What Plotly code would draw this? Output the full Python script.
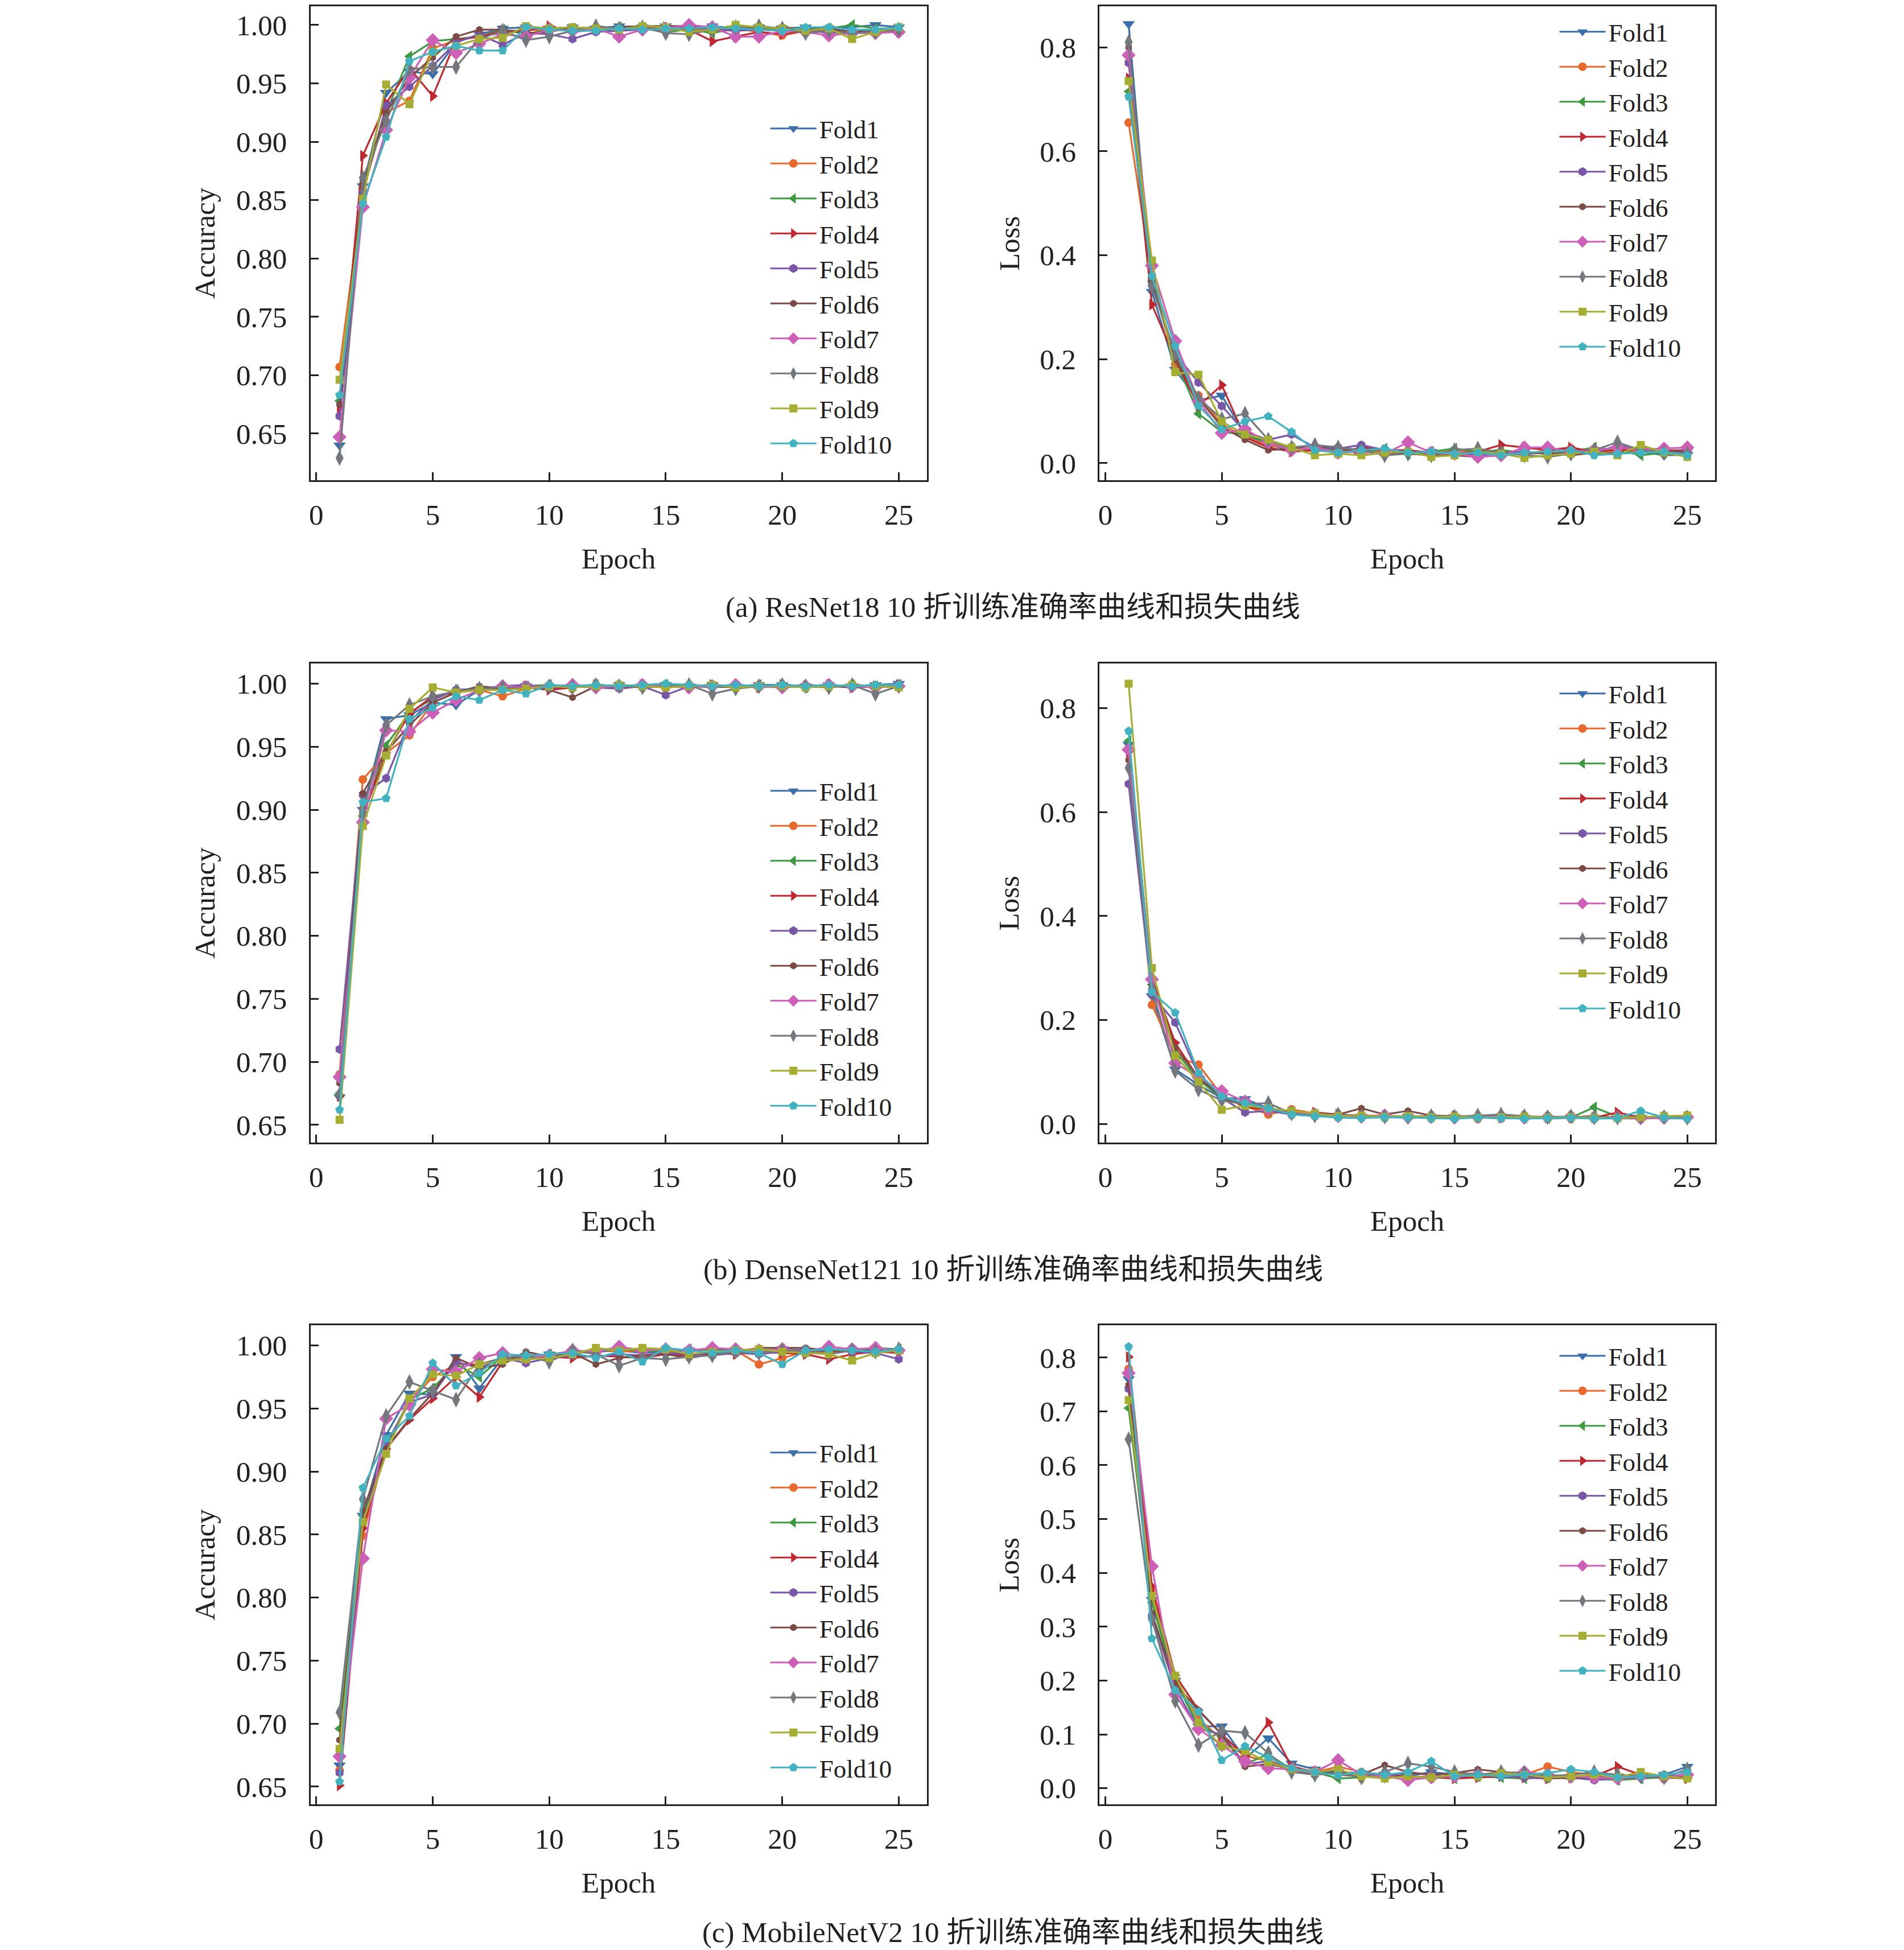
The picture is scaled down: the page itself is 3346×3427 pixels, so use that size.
# 三种模型10折训练准确率/损失曲线 (Plotly)
import plotly.graph_objects as go
from plotly.subplots import make_subplots

epochs = list(range(1, 26))
fold_names = ['Fold%d' % i for i in range(1, 11)]

# ---------------- (a) ResNet18 ----------------
acc_a = [
    [0.640, 0.862, 0.942, 0.960, 0.958, 0.985, 0.992, 0.997, 0.998, 0.997, 0.998, 0.997, 0.999, 0.998, 0.999, 0.998, 0.999, 0.997, 0.998, 0.997, 0.998, 0.997, 0.998, 1.000, 0.998],
    [0.707, 0.858, 0.925, 0.935, 0.980, 0.987, 0.990, 0.993, 0.996, 0.995, 0.998, 0.996, 0.997, 0.998, 0.996, 0.997, 0.995, 0.997, 0.994, 0.991, 0.995, 0.996, 0.994, 0.995, 0.994],
    [0.678, 0.860, 0.925, 0.973, 0.986, 0.988, 0.990, 0.996, 0.992, 0.996, 0.997, 0.996, 0.998, 0.997, 0.994, 0.996, 0.993, 0.997, 0.997, 0.996, 0.995, 0.997, 1.000, 0.997, 0.997],
    [0.672, 0.888, 0.933, 0.963, 0.939, 0.987, 0.990, 0.995, 0.995, 0.999, 0.994, 0.996, 0.995, 0.997, 0.998, 0.996, 0.986, 0.990, 0.994, 0.992, 0.995, 0.994, 0.993, 0.995, 0.994],
    [0.665, 0.856, 0.931, 0.947, 0.965, 0.985, 0.992, 0.983, 0.993, 0.992, 0.988, 0.994, 0.995, 0.996, 0.997, 0.998, 0.996, 0.995, 0.996, 0.995, 0.996, 0.993, 0.994, 0.995, 0.996],
    [0.675, 0.866, 0.925, 0.955, 0.972, 0.990, 0.996, 0.996, 0.993, 0.994, 0.998, 0.997, 0.998, 0.999, 0.999, 0.999, 0.998, 0.997, 0.997, 0.998, 0.996, 0.997, 0.994, 0.996, 0.995],
    [0.647, 0.844, 0.910, 0.955, 0.987, 0.976, 0.984, 0.992, 0.990, 0.996, 0.995, 0.997, 0.990, 0.996, 0.997, 1.000, 0.998, 0.990, 0.990, 0.995, 0.994, 0.991, 0.993, 0.993, 0.994],
    [0.629, 0.869, 0.918, 0.962, 0.964, 0.964, 0.988, 0.995, 0.987, 0.990, 0.995, 0.999, 0.997, 0.998, 0.993, 0.992, 0.996, 0.998, 0.999, 0.997, 0.993, 0.995, 0.993, 0.994, 0.996],
    [0.696, 0.851, 0.949, 0.932, 0.977, 0.982, 0.988, 0.989, 0.999, 0.997, 0.998, 0.997, 0.996, 0.999, 0.998, 0.994, 0.996, 1.000, 0.998, 0.997, 0.995, 0.997, 0.988, 0.994, 0.998],
    [0.683, 0.847, 0.904, 0.969, 0.977, 0.982, 0.978, 0.978, 0.998, 0.996, 0.995, 0.995, 0.997, 0.996, 0.997, 0.997, 0.998, 0.997, 0.996, 0.995, 0.998, 0.998, 0.996, 0.996, 0.998],
]
loss_a = [
    [0.845, 0.330, 0.180, 0.120, 0.130, 0.055, 0.035, 0.025, 0.025, 0.022, 0.028, 0.020, 0.018, 0.022, 0.020, 0.018, 0.020, 0.022, 0.018, 0.020, 0.017, 0.020, 0.022, 0.015, 0.016],
    [0.655, 0.355, 0.190, 0.130, 0.075, 0.050, 0.035, 0.028, 0.022, 0.030, 0.020, 0.025, 0.022, 0.018, 0.025, 0.020, 0.022, 0.018, 0.024, 0.028, 0.022, 0.020, 0.024, 0.020, 0.022],
    [0.715, 0.350, 0.200, 0.095, 0.060, 0.055, 0.040, 0.030, 0.028, 0.025, 0.020, 0.028, 0.018, 0.022, 0.028, 0.022, 0.025, 0.020, 0.018, 0.022, 0.030, 0.025, 0.015, 0.020, 0.022],
    [0.740, 0.305, 0.200, 0.110, 0.150, 0.050, 0.030, 0.022, 0.025, 0.020, 0.030, 0.025, 0.025, 0.020, 0.018, 0.022, 0.035, 0.030, 0.025, 0.030, 0.022, 0.025, 0.028, 0.024, 0.025],
    [0.770, 0.345, 0.210, 0.155, 0.110, 0.060, 0.045, 0.055, 0.030, 0.028, 0.035, 0.025, 0.022, 0.020, 0.018, 0.015, 0.020, 0.022, 0.018, 0.020, 0.018, 0.035, 0.025, 0.022, 0.020],
    [0.800, 0.350, 0.200, 0.125, 0.070, 0.045, 0.025, 0.028, 0.030, 0.032, 0.015, 0.020, 0.018, 0.015, 0.015, 0.012, 0.015, 0.018, 0.020, 0.015, 0.020, 0.018, 0.030, 0.022, 0.025],
    [0.785, 0.380, 0.235, 0.120, 0.058, 0.065, 0.040, 0.025, 0.030, 0.020, 0.022, 0.018, 0.040, 0.020, 0.018, 0.012, 0.015, 0.030, 0.030, 0.022, 0.025, 0.030, 0.026, 0.028, 0.030],
    [0.810, 0.340, 0.210, 0.125, 0.085, 0.095, 0.045, 0.030, 0.035, 0.030, 0.025, 0.015, 0.018, 0.015, 0.025, 0.028, 0.020, 0.015, 0.012, 0.018, 0.025, 0.040, 0.025, 0.020, 0.018],
    [0.735, 0.390, 0.175, 0.170, 0.080, 0.055, 0.045, 0.030, 0.015, 0.018, 0.015, 0.020, 0.022, 0.012, 0.015, 0.022, 0.018, 0.010, 0.015, 0.018, 0.022, 0.015, 0.035, 0.020, 0.012],
    [0.705, 0.360, 0.225, 0.110, 0.065, 0.080, 0.090, 0.060, 0.025, 0.020, 0.025, 0.028, 0.020, 0.022, 0.018, 0.020, 0.015, 0.020, 0.022, 0.025, 0.015, 0.018, 0.020, 0.022, 0.015],
]

# ---------------- (b) DenseNet121 ----------------
acc_b = [
    [0.672, 0.900, 0.972, 0.975, 0.985, 0.983, 0.995, 0.997, 0.998, 0.996, 0.998, 0.997, 0.999, 0.998, 0.999, 0.998, 0.999, 0.998, 0.999, 0.999, 0.998, 0.999, 0.998, 0.999, 1.000],
    [0.690, 0.924, 0.945, 0.959, 0.985, 0.993, 0.995, 0.990, 0.996, 0.997, 0.998, 0.999, 0.998, 0.997, 0.998, 0.999, 0.998, 0.997, 0.998, 0.999, 0.998, 0.997, 0.999, 0.998, 0.998],
    [0.675, 0.895, 0.951, 0.977, 0.988, 0.995, 0.996, 0.997, 0.998, 0.999, 0.998, 0.999, 0.997, 0.998, 0.999, 0.998, 0.997, 0.998, 0.999, 0.998, 0.997, 0.998, 0.999, 0.998, 0.999],
    [0.673, 0.895, 0.945, 0.976, 0.990, 0.993, 0.996, 0.997, 0.998, 0.995, 0.997, 0.999, 0.998, 0.999, 0.998, 0.997, 0.999, 0.998, 0.997, 0.999, 0.998, 0.999, 0.997, 0.998, 0.999],
    [0.710, 0.912, 0.925, 0.970, 0.987, 0.995, 0.996, 0.998, 0.999, 0.997, 0.998, 0.997, 0.996, 0.998, 0.991, 0.998, 0.999, 0.998, 0.997, 0.999, 0.998, 0.998, 0.999, 0.998, 0.999],
    [0.683, 0.913, 0.946, 0.967, 0.985, 0.993, 0.998, 0.996, 0.997, 0.995, 0.989, 0.998, 0.997, 0.998, 0.997, 0.999, 0.998, 0.997, 0.998, 0.997, 0.999, 0.998, 0.997, 0.998, 0.998],
    [0.688, 0.890, 0.963, 0.962, 0.977, 0.987, 0.995, 0.998, 0.997, 0.998, 0.999, 0.997, 0.998, 0.999, 0.998, 0.997, 0.998, 0.999, 0.998, 0.997, 0.998, 0.999, 0.998, 0.997, 0.998],
    [0.674, 0.898, 0.967, 0.983, 0.990, 0.994, 0.996, 0.997, 0.996, 0.998, 0.997, 0.999, 0.998, 0.997, 0.998, 0.999, 0.992, 0.996, 0.998, 0.999, 0.998, 0.997, 0.999, 0.992, 0.998],
    [0.654, 0.887, 0.943, 0.980, 0.997, 0.993, 0.995, 0.995, 0.996, 0.998, 0.997, 0.998, 0.999, 0.998, 0.997, 0.998, 0.999, 0.997, 0.998, 0.998, 0.997, 0.998, 0.999, 0.998, 0.997],
    [0.662, 0.906, 0.909, 0.972, 0.981, 0.990, 0.987, 0.995, 0.992, 0.999, 0.998, 0.999, 0.998, 0.999, 1.000, 0.999, 0.998, 0.999, 0.998, 0.999, 0.998, 0.999, 0.998, 0.999, 0.999],
]
loss_b = [
    [0.730, 0.246, 0.105, 0.075, 0.050, 0.048, 0.030, 0.020, 0.018, 0.015, 0.014, 0.012, 0.014, 0.012, 0.013, 0.012, 0.011, 0.012, 0.010, 0.012, 0.011, 0.010, 0.012, 0.011, 0.010],
    [0.720, 0.229, 0.130, 0.114, 0.055, 0.035, 0.018, 0.028, 0.020, 0.018, 0.015, 0.016, 0.014, 0.015, 0.012, 0.014, 0.013, 0.012, 0.014, 0.012, 0.013, 0.012, 0.011, 0.013, 0.012],
    [0.737, 0.268, 0.140, 0.085, 0.050, 0.035, 0.025, 0.020, 0.018, 0.016, 0.015, 0.014, 0.015, 0.013, 0.014, 0.012, 0.013, 0.012, 0.011, 0.012, 0.032, 0.014, 0.012, 0.013, 0.012],
    [0.716, 0.280, 0.156, 0.088, 0.055, 0.032, 0.028, 0.020, 0.022, 0.018, 0.016, 0.015, 0.014, 0.013, 0.015, 0.013, 0.012, 0.014, 0.012, 0.013, 0.012, 0.022, 0.012, 0.013, 0.014],
    [0.654, 0.249, 0.195, 0.095, 0.050, 0.022, 0.025, 0.018, 0.015, 0.016, 0.014, 0.013, 0.012, 0.014, 0.012, 0.013, 0.011, 0.012, 0.013, 0.011, 0.012, 0.011, 0.010, 0.012, 0.011],
    [0.700, 0.270, 0.147, 0.090, 0.052, 0.035, 0.030, 0.022, 0.020, 0.018, 0.030, 0.018, 0.025, 0.016, 0.015, 0.014, 0.016, 0.013, 0.014, 0.013, 0.015, 0.012, 0.014, 0.013, 0.015],
    [0.720, 0.278, 0.117, 0.090, 0.063, 0.043, 0.028, 0.022, 0.018, 0.015, 0.014, 0.016, 0.013, 0.014, 0.012, 0.013, 0.015, 0.012, 0.013, 0.014, 0.012, 0.013, 0.011, 0.012, 0.013],
    [0.685, 0.260, 0.102, 0.066, 0.045, 0.038, 0.040, 0.020, 0.016, 0.018, 0.015, 0.014, 0.013, 0.015, 0.014, 0.016, 0.018, 0.015, 0.013, 0.014, 0.013, 0.012, 0.014, 0.013, 0.012],
    [0.847, 0.300, 0.131, 0.081, 0.027, 0.035, 0.030, 0.025, 0.020, 0.015, 0.016, 0.014, 0.015, 0.013, 0.014, 0.012, 0.013, 0.014, 0.012, 0.013, 0.012, 0.011, 0.013, 0.015, 0.016],
    [0.756, 0.254, 0.214, 0.098, 0.053, 0.040, 0.030, 0.018, 0.015, 0.012, 0.011, 0.013, 0.012, 0.011, 0.010, 0.012, 0.011, 0.010, 0.011, 0.012, 0.010, 0.011, 0.025, 0.012, 0.010],
]

# ---------------- (c) MobileNetV2 ----------------
acc_c = [
    [0.667, 0.865, 0.929, 0.962, 0.961, 0.991, 0.966, 0.990, 0.991, 0.993, 0.994, 0.995, 0.996, 0.994, 0.995, 0.996, 0.997, 0.996, 0.995, 0.997, 0.996, 0.995, 0.996, 0.997, 0.995],
    [0.663, 0.849, 0.920, 0.955, 0.975, 0.985, 0.985, 0.990, 0.991, 0.990, 0.993, 0.997, 0.995, 0.996, 0.995, 0.993, 0.994, 0.996, 0.985, 0.990, 0.995, 0.994, 0.996, 0.995, 0.996],
    [0.696, 0.865, 0.920, 0.957, 0.966, 0.985, 0.975, 0.991, 0.990, 0.993, 0.995, 0.996, 0.997, 0.996, 0.995, 0.997, 0.996, 0.995, 0.996, 0.997, 0.996, 0.997, 0.996, 0.998, 0.997],
    [0.651, 0.855, 0.918, 0.941, 0.958, 0.975, 0.959, 0.987, 0.990, 0.991, 0.990, 0.992, 0.991, 0.990, 0.993, 0.992, 0.994, 0.993, 0.995, 0.994, 0.993, 0.989, 0.993, 0.995, 0.994],
    [0.661, 0.860, 0.922, 0.955, 0.961, 0.987, 0.982, 0.990, 0.986, 0.990, 0.992, 0.991, 0.993, 0.992, 0.994, 0.993, 0.992, 0.994, 0.993, 0.995, 0.997, 0.996, 0.995, 0.994, 0.989],
    [0.687, 0.869, 0.918, 0.942, 0.962, 0.990, 0.982, 0.985, 0.995, 0.991, 0.994, 0.985, 0.990, 0.992, 0.993, 0.990, 0.993, 0.995, 0.998, 0.998, 0.998, 0.996, 0.995, 0.996, 0.997],
    [0.674, 0.831, 0.942, 0.953, 0.981, 0.979, 0.990, 0.994, 0.990, 0.992, 0.996, 0.995, 0.999, 0.996, 0.997, 0.996, 0.998, 0.997, 0.996, 0.997, 0.995, 0.999, 0.997, 0.998, 0.996],
    [0.709, 0.878, 0.944, 0.971, 0.964, 0.957, 0.985, 0.990, 0.992, 0.987, 0.996, 0.993, 0.984, 0.990, 0.989, 0.991, 0.992, 0.995, 0.994, 0.996, 0.995, 0.993, 0.996, 0.995, 0.997],
    [0.680, 0.860, 0.914, 0.958, 0.977, 0.976, 0.985, 0.988, 0.989, 0.990, 0.993, 0.998, 0.996, 0.998, 0.997, 0.993, 0.995, 0.996, 0.997, 0.995, 0.994, 0.993, 0.988, 0.994, 0.996],
    [0.654, 0.887, 0.926, 0.944, 0.986, 0.968, 0.978, 0.993, 0.992, 0.993, 0.994, 0.990, 0.995, 0.987, 0.998, 0.996, 0.994, 0.996, 0.994, 0.985, 0.996, 0.997, 0.996, 0.995, 0.997],
]
loss_c = [
    [0.760, 0.350, 0.200, 0.115, 0.115, 0.055, 0.093, 0.046, 0.035, 0.030, 0.028, 0.025, 0.022, 0.030, 0.025, 0.022, 0.025, 0.020, 0.022, 0.018, 0.020, 0.022, 0.018, 0.025, 0.040],
    [0.779, 0.370, 0.200, 0.130, 0.090, 0.060, 0.050, 0.040, 0.030, 0.040, 0.030, 0.025, 0.022, 0.020, 0.025, 0.028, 0.022, 0.025, 0.040, 0.030, 0.025, 0.020, 0.022, 0.025, 0.020],
    [0.706, 0.345, 0.195, 0.120, 0.095, 0.045, 0.063, 0.035, 0.030, 0.018, 0.020, 0.025, 0.022, 0.020, 0.018, 0.022, 0.020, 0.018, 0.020, 0.022, 0.018, 0.015, 0.018, 0.020, 0.022],
    [0.801, 0.375, 0.210, 0.145, 0.100, 0.060, 0.122, 0.040, 0.030, 0.025, 0.022, 0.025, 0.020, 0.022, 0.018, 0.020, 0.022, 0.020, 0.018, 0.020, 0.022, 0.040, 0.025, 0.020, 0.018],
    [0.742, 0.320, 0.185, 0.110, 0.100, 0.045, 0.050, 0.035, 0.025, 0.030, 0.025, 0.022, 0.028, 0.025, 0.020, 0.025, 0.022, 0.020, 0.018, 0.020, 0.015, 0.018, 0.020, 0.022, 0.025],
    [0.749, 0.325, 0.194, 0.145, 0.100, 0.040, 0.045, 0.035, 0.030, 0.028, 0.025, 0.043, 0.030, 0.025, 0.028, 0.035, 0.030, 0.025, 0.020, 0.018, 0.022, 0.020, 0.025, 0.022, 0.020],
    [0.771, 0.412, 0.174, 0.110, 0.080, 0.050, 0.037, 0.035, 0.030, 0.052, 0.025, 0.022, 0.015, 0.020, 0.022, 0.025, 0.028, 0.030, 0.025, 0.022, 0.020, 0.018, 0.022, 0.020, 0.025],
    [0.648, 0.314, 0.162, 0.080, 0.107, 0.103, 0.065, 0.030, 0.025, 0.028, 0.020, 0.030, 0.046, 0.040, 0.030, 0.025, 0.030, 0.028, 0.022, 0.025, 0.030, 0.025, 0.022, 0.020, 0.035],
    [0.721, 0.357, 0.209, 0.122, 0.078, 0.069, 0.048, 0.035, 0.030, 0.035, 0.022, 0.018, 0.022, 0.020, 0.025, 0.022, 0.028, 0.025, 0.020, 0.022, 0.025, 0.020, 0.030, 0.022, 0.018],
    [0.820, 0.278, 0.182, 0.142, 0.052, 0.078, 0.057, 0.037, 0.030, 0.024, 0.030, 0.025, 0.030, 0.050, 0.022, 0.025, 0.022, 0.025, 0.028, 0.035, 0.030, 0.020, 0.022, 0.025, 0.030],
]

captions = [
    '(a) ResNet18 10 折训练准确率曲线和损失曲线',
    '(b) DenseNet121 10 折训练准确率曲线和损失曲线',
    '(c) MobileNetV2 10 折训练准确率曲线和损失曲线',
]

# 样式
colors = ['#3B6FA9', '#E8692B', '#3E9A40', '#C1272F', '#7A56A8',
          '#7C4A45', '#CE5FB6', '#74777D', '#A5AE31', '#41B3C0']
symbols = ['triangle-down', 'circle', 'triangle-left', 'triangle-right', 'hexagon',
           'hexagon', 'diamond', 'diamond-tall', 'square', 'pentagon']
msizes = [19, 15, 18, 18, 16, 13, 19, 20, 14, 16]

FONT = 'Liberation Serif, Times New Roman, Noto Sans CJK SC, serif'
FS = 51
W, H = 3346, 3427
OFF = 8  # 页面 body 默认边距


def px_x(p):
    return (p - OFF) / W


def px_y(p):
    return min(1.0, 1 - (p - OFF) / H)


# 子图边框位置(像素)
box_x = [(543, 1627), (1931, 3014)]
box_y = [(OFF + 3, 844), (1166, 2008), (2329, 3171)]
x_dom = [[px_x(a), px_x(b)] for a, b in box_x]
y_dom = [[px_y(b), px_y(a)] for a, b in box_y]
acc_range = [[0.610, 1.016], [0.636, 1.016], [0.636, 1.016]]
loss_range = [[-0.033, 0.879], [-0.036, 0.886], [-0.030, 0.860]]

# 图例第一项中心(像素)
leg_first = [[238, 68], [1402, 1231], [2565, 2395]]
leg_x = [1347, 2735]

fig = make_subplots(rows=3, cols=2)

all_data = [(acc_a, loss_a), (acc_b, loss_b), (acc_c, loss_c)]
leg_idx = 0
for r, (acc, loss) in enumerate(all_data):
    for c, series in enumerate([acc, loss]):
        leg_idx += 1
        lname = 'legend' if leg_idx == 1 else 'legend%d' % leg_idx
        for k in range(10):
            fig.add_trace(go.Scatter(
                x=epochs, y=series[k], name=fold_names[k],
                mode='lines+markers',
                line=dict(color=colors[k], width=3.2),
                marker=dict(symbol=symbols[k], size=msizes[k], color=colors[k], line=dict(width=0)),
                legend=lname,
            ), row=r + 1, col=c + 1)
        fig.update_layout({lname: dict(
            x=px_x(leg_x[c]), y=px_y(leg_first[r][c] - 48), xanchor='left', yanchor='top',
            bgcolor='rgba(0,0,0,0)', borderwidth=0,
            font=dict(family=FONT, size=45, color='#231f20'),
            itemwidth=81, tracegroupgap=0,
        )})

# 坐标轴
for r in range(3):
    for c in range(2):
        fig.update_xaxes(
            domain=x_dom[c], range=[-0.25, 26.2],
            tickvals=[0, 5, 10, 15, 20, 25],
            showline=True, mirror=True, linecolor='#231f20', linewidth=3,
            ticks='inside', ticklen=14, tickwidth=3, tickcolor='#231f20',
            ticklabelstandoff=14,
            showgrid=False, zeroline=False,
            tickfont=dict(family=FONT, size=FS, color='#231f20'),
            row=r + 1, col=c + 1)
        if c == 0:
            yt = [0.65, 0.70, 0.75, 0.80, 0.85, 0.90, 0.95, 1.00]
            fmt = '.2f'
            rng = acc_range[r]
        else:
            yt = [0.0, 0.2, 0.4, 0.6, 0.8] if r < 2 else [0.0, 0.1, 0.2, 0.3, 0.4, 0.5, 0.6, 0.7, 0.8]
            fmt = '.1f'
            rng = loss_range[r]
        fig.update_yaxes(
            domain=y_dom[r], range=rng, tickvals=yt, tickformat=fmt,
            showline=True, mirror=True, linecolor='#231f20', linewidth=3,
            ticks='inside', ticklen=14, tickwidth=3, tickcolor='#231f20',
            ticklabelstandoff=28,
            showgrid=False, zeroline=False,
            tickfont=dict(family=FONT, size=FS, color='#231f20'),
            row=r + 1, col=c + 1)

# 轴标题和图注
cap_y = [1067, 2231, 3396]
annotations = []
for r in range(3):
    yb, yt_ = y_dom[r]
    for c in range(2):
        annotations.append(dict(
            text='Epoch', xref='paper', yref='paper',
            x=(x_dom[c][0] + x_dom[c][1]) / 2, y=px_y(box_y[r][1] + 138),
            xanchor='center', yanchor='middle', showarrow=False,
            font=dict(family=FONT, size=FS, color='#231f20')))
    annotations.append(dict(
        text='Accuracy', xref='paper', yref='paper', x=px_x(357), y=(yb + yt_) / 2,
        textangle=-90, xanchor='center', yanchor='middle', showarrow=False,
        font=dict(family=FONT, size=FS, color='#231f20')))
    annotations.append(dict(
        text='Loss', xref='paper', yref='paper', x=px_x(1772), y=(yb + yt_) / 2,
        textangle=-90, xanchor='center', yanchor='middle', showarrow=False,
        font=dict(family=FONT, size=FS, color='#231f20')))
    annotations.append(dict(
        text=captions[r], xref='paper', yref='paper', x=px_x(1779),
        y=px_y(cap_y[r]),
        xanchor='center', yanchor='middle', showarrow=False,
        font=dict(family=FONT, size=FS, color='#231f20')))

fig.update_layout(
    width=W, height=H,
    margin=dict(l=0, r=0, t=0, b=0),
    paper_bgcolor='white', plot_bgcolor='white',
    annotations=annotations,
    showlegend=True,
)

fig.write_html('out.html')
